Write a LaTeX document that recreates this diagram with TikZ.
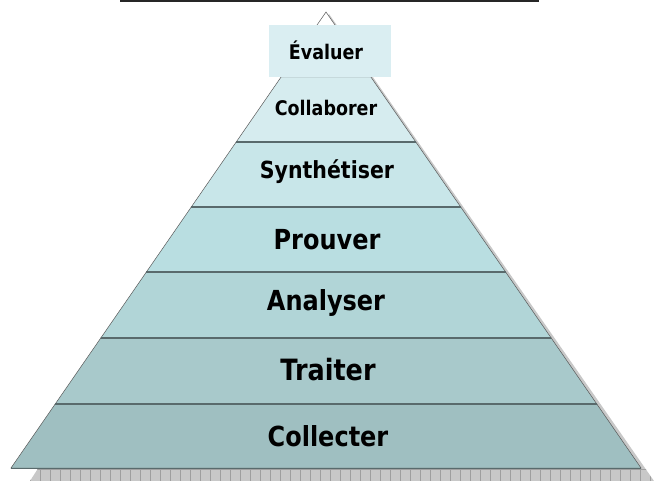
\documentclass[tikz,border=0pt]{standalone}
\usepackage{fontspec}
\setmainfont{DejaVu Sans}
\begin{document}
\begin{tikzpicture}[x=1pt,y=-1pt,
  band/.style={draw=gray!70!black, line width=0.5pt},
  sep/.style={draw=sepcol, line width=1.8pt},
  lbl/.style={text=black, inner sep=0pt, anchor=center}]
\definecolor{sepcol}{HTML}{596A6C}
\definecolor{cA}{HTML}{9FBFC1}
\definecolor{cB}{HTML}{A8C9CB}
\definecolor{cC}{HTML}{B1D5D7}
\definecolor{cD}{HTML}{B9DEE1}
\definecolor{cE}{HTML}{C8E6E9}
\definecolor{cF}{HTML}{D6ECEF}
\definecolor{cG}{HTML}{DAEEF2}
\definecolor{shad}{HTML}{C8C8C8}
\newcommand{\tl}[2]{\fontsize{#1}{#1}\selectfont\bfseries\scalebox{1}[1.15]{#2}}
\useasboundingbox (0,0) rectangle (654,481);
% top line
\draw[line width=1.4pt, black!85] (120,1) -- (539,1);
% shadow
\path[fill=shad] (329,14) -- (654,481) -- (30,481) -- cycle;
\begin{scope}
  \clip (329,14) -- (654,481) -- (30,481) -- cycle;
  \foreach \x in {30,40,...,660} \draw[gray!75, line width=0.5pt] (\x,468) -- (\x,481);
  \draw[gray!75, line width=0.5pt] (0,469) -- (654,469);
\end{scope}
% pyramid helper: left x = 326-0.6908*(y-12), right x = 326+0.6908*(y-12)
\def\L#1{\fpeval{326-0.6908*(#1-12)}}
\def\R#1{\fpeval{326+0.6908*(#1-12)}}
\path[band, fill=white] (326,12) -- (\R{77},77) -- (\L{77},77) -- cycle;
\path[band, fill=cF] (\L{77},77) -- (\R{77},77) -- (\R{142},142) -- (\L{142},142) -- cycle;
\path[band, fill=cE] (\L{142},142) -- (\R{142},142) -- (\R{207},207) -- (\L{207},207) -- cycle;
\path[band, fill=cD] (\L{207},207) -- (\R{207},207) -- (\R{272},272) -- (\L{272},272) -- cycle;
\path[band, fill=cC] (\L{272},272) -- (\R{272},272) -- (\R{338},338) -- (\L{338},338) -- cycle;
\path[band, fill=cB] (\L{338},338) -- (\R{338},338) -- (\R{404},404) -- (\L{404},404) -- cycle;
\path[band, fill=cA] (\L{404},404) -- (\R{404},404) -- (\R{468},468) -- (\L{468},468) -- cycle;
% separators
\foreach \y in {142,207,272,338,404}
  \draw[sep] (\L{\y},\y) -- (\R{\y},\y);
\draw[draw=sepcol, line width=1pt] (\L{468},468) -- (\R{468},468);
% top box
\fill[cG] (269,25) rectangle (391,77);
% labels
\node[lbl] (eval) at (326,50) {\tl{17.5}{Évaluer}};
\node[lbl] (coll) at (326,108) {\tl{17.5}{Collaborer}};
\node[lbl] (synt) at (327,172) {\tl{20.5}{Synthétiser}};
\node[lbl] (prou) at (327,240) {\tl{24}{Prouver}};
\node[lbl] (anal) at (326,303) {\tl{24}{Analyser}};
\node[lbl] (trai) at (328,370) {\tl{25.5}{Traiter}};
\node[lbl] (colc) at (328,436) {\tl{24}{Collecter}};
\end{tikzpicture}
\end{document}
